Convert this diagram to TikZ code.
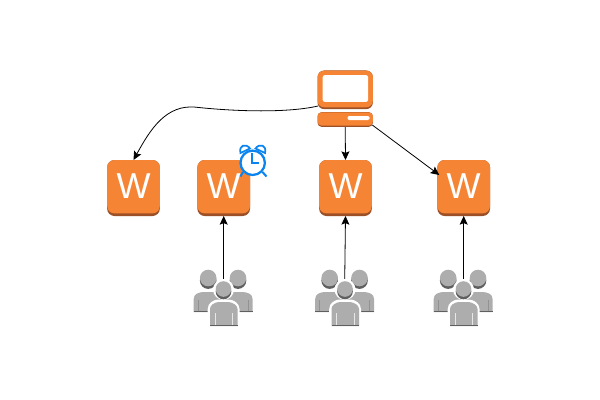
\documentclass[tikz,border=0pt]{standalone}
\usepackage{fontspec}
\setmainfont{Liberation Sans}
\usetikzlibrary{arrows.meta}
\definecolor{awso}{HTML}{F58534}
\definecolor{awsd}{HTML}{9D5025}
\definecolor{ugray}{HTML}{ADADAD}
\definecolor{ugdark}{HTML}{5F5F5F}
\definecolor{clockb}{HTML}{0A84EE}
\tikzset{
  x=0.75pt,y=-0.75pt,
  base/.style={rectangle,rounded corners=5.5pt,inner sep=0,outer sep=0,minimum width=39.5pt,minimum height=42pt,fill=awsd},
  top/.style={rectangle,rounded corners=5.5pt,inner sep=0,outer sep=0,minimum width=39.5pt,minimum height=40pt,fill=awso},
  wlabel/.style={text=white,font=\fontsize{27}{27}\selectfont,inner sep=0},
  conn/.style={draw=black,line width=0.6pt,-{Stealth[length=6.5pt,width=6pt,inset=1.2pt]}},
  person/.pic={
    \fill[ugdark] (0,2.6) circle[radius=8.3];
    \fill[ugray] (0,0) circle[radius=8.3];
    \fill[ugray] (-14.5,34) -- (-14.5,21) .. controls (-14.5,16) and (-10,14.5) .. (-5,14) -- (5,14) .. controls (10,14.5) and (14.5,16) .. (14.5,21) -- (14.5,34) -- cycle;
    \fill[ugdark] (-14.5,32.6) rectangle (14.5,34);
    \fill[ugdark!35!ugray] (-10.5,22) rectangle (-9.5,32.6);
    \fill[ugdark!35!ugray] (9.5,22) rectangle (10.5,32.6);
  },
  usergroup/.pic={
    \pic at (-15.3,0) {person};
    \pic at (14.5,0) {person};
    \fill[white] (0,11.5) circle[radius=10.5];
    \fill[white] (-15.8,50) -- (-15.8,31) .. controls (-15.8,25) and (-10,22) .. (-6,21.5) -- (6,21.5) .. controls (10,22) and (16,25) .. (16,31) -- (16,50) -- cycle;
    \fill[ugdark] (0,13.5) circle[radius=7.8];
    \fill[ugray] (0,11) circle[radius=7.8];
    \fill[ugray] (-13.5,48) -- (-13.5,31) .. controls (-13.5,27) and (-9,24.5) .. (-5,24) -- (5,24) .. controls (9,24.5) and (14,27) .. (14,31) -- (14,48) -- cycle;
    \fill[ugdark] (-13.5,46.6) rectangle (14,48);
    \fill[ugdark!15!white] (-9,35) rectangle (-8,46.6);
    \fill[ugdark!15!white] (8.5,35) rectangle (9.5,46.6);
  }
}
\newcommand{\wbox}[2]{%
  \node[base] (#1) at (#2,188) {};
  \node[top] (#1t) at (#2,186.7) {};
  \node[wlabel] (#1l) at (#2,186.5) {W};
}
\begin{document}
\begin{tikzpicture}
\useasboundingbox (0,0) rectangle (600,400);
\fill[white] (0,0) rectangle (600,400);

% W boxes
\wbox{wa}{133.5}
\wbox{wb}{223.7}
\wbox{wc}{345.5}
\wbox{wd}{463.7}

% clock
\draw[clockb,line width=1.3pt,fill=white] (240.5,153) .. controls (238.5,145) and (246,143) .. (250,148.5) -- cycle;
\draw[clockb,line width=1.3pt,fill=white] (265,153) .. controls (267,145) and (259.5,143) .. (255.5,148.5) -- cycle;
\draw[clockb,line width=1.5pt] (243,172) -- (240.5,176.5);
\draw[clockb,line width=1.5pt] (262.5,172) -- (266.5,176.5);
\draw[clockb,line width=1.7pt,fill=white] (252.7,162.8) circle[radius=12.2];
\draw[clockb,line width=1.3pt] (252,152.5) -- (252,163.3) -- (258.7,163.3);

% monitor
\node[rectangle,rounded corners=5pt,fill=awsd,inner sep=0,minimum width=41.5pt,minimum height=29pt] (mon) at (345.2,89.8) {};
\node[rectangle,rounded corners=5pt,fill=awso,inner sep=0,minimum width=41.5pt,minimum height=27.5pt] (monf) at (345.2,89) {};
\node[rectangle,rounded corners=1.5pt,fill=white,inner sep=0,minimum width=34pt,minimum height=20pt] (mons) at (345.4,88.5) {};
\node[rectangle,rounded corners=3pt,fill=awsd,inner sep=0,minimum width=41.5pt,minimum height=11pt] (kbd) at (345.2,119.5) {};
\node[rectangle,rounded corners=3pt,fill=awso,inner sep=0,minimum width=41.5pt,minimum height=10pt] (kbdf) at (345.2,119) {};
\node[rectangle,rounded corners=1pt,fill=white,inner sep=0,minimum width=16.5pt,minimum height=3pt] (slot) at (358.5,118) {};

% free ends
\coordinate (ua) at (223.7,281);
\coordinate (uc) at (344.7,281);
\coordinate (ud) at (463.7,281);
\coordinate (bend) at (197,107.3);
\coordinate (mstart) at (318,106);
\coordinate (kstart) at (372.3,125);
\coordinate (dend) at (439.3,175);

% connectors
\draw[conn] (mstart) .. controls (288,113) and (236,111.5) .. (bend) .. controls (166,103.5) and (150,130) .. (wa.north);
\draw[conn] (kbd.south) -- (wc.north);
\draw[conn] (kstart) -- (dend);
\draw[conn] (ua) -- (wb.south);
\draw[conn] (uc) -- (wc.south);
\draw[conn] (ud) -- (wd.south);

% user groups
\pic at (223.5,278) {usergroup};
\pic at (345,278) {usergroup};
\pic at (463.5,278) {usergroup};
\end{tikzpicture}
\end{document}
